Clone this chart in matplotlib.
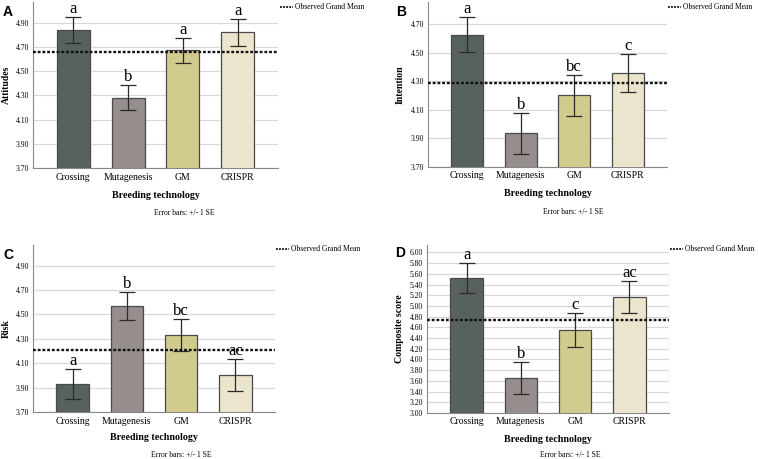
import matplotlib
matplotlib.use("Agg")
import matplotlib.pyplot as plt
import numpy as np

categories = ["Crossing", "Mutagenesis", "GM", "CRISPR"]
colors = ["#58625c", "#958e8d", "#d1cc8e", "#ece5cd"]

att_mean = [4.84, 4.28, 4.67, 4.82]
att_se = [0.105, 0.105, 0.107, 0.111]
att_letters = ["a", "b", "a", "a"]
att_grand = 4.655

int_mean = [4.628, 3.937, 4.204, 4.361]
int_se = [0.121, 0.144, 0.144, 0.133]
int_letters = ["a", "b", "bc", "c"]
int_grand = 4.286

risk_mean = [3.93, 4.569, 4.331, 4.003]
risk_se = [0.121, 0.113, 0.129, 0.128]
risk_letters = ["a", "b", "bc", "ac"]
risk_grand = 4.211

comp_mean = [5.53, 3.66, 4.55, 5.174]
comp_se = [0.28, 0.296, 0.313, 0.297]
comp_letters = ["a", "b", "c", "ac"]
comp_grand = 4.732

W, H = 758, 459
fig = plt.figure(figsize=(W / 100, H / 100), dpi=100)

serif = "Liberation Serif"

panels = [
    dict(box=(33, 2, 278, 168), mean=att_mean, se=att_se, letters=att_letters, grand=att_grand,
         ylabel="Attitudes", ylim=(3.70, 5.07), ticks=np.arange(3.70, 4.91, 0.2), tag="A",
         tagpos=(3, 12), legpos=(280, 7), ylabx=6, errpos=(184, 213), xlab_y=196, tick_y=178),
    dict(box=(428, 2, 667, 167), mean=int_mean, se=int_se, letters=int_letters, grand=int_grand,
         ylabel="Intention", ylim=(3.70, 4.856), ticks=np.arange(3.70, 4.71, 0.2), tag="B",
         tagpos=(396, 12), legpos=(668, 7), ylabx=400, errpos=(573, 212), xlab_y=193, tick_y=176),
    dict(box=(33, 245, 275, 412), mean=risk_mean, se=risk_se, letters=risk_letters, grand=risk_grand,
         ylabel="Risk", ylim=(3.70, 5.07), ticks=np.arange(3.70, 4.91, 0.2), tag="C",
         tagpos=(3, 255), legpos=(276, 249), ylabx=6, errpos=(181, 455), xlab_y=438, tick_y=421),
    dict(box=(427, 245, 669, 413), mean=comp_mean, se=comp_se, letters=comp_letters, grand=comp_grand,
         ylabel="Composite score", ylim=(3.00, 6.14), ticks=np.arange(3.00, 6.01, 0.2), tag="D",
         tagpos=(395, 253), legpos=(670, 249), ylabx=400, errpos=(570, 455), xlab_y=439, tick_y=422),
]

for p in panels:
    l, t, r, b = p["box"]
    ax = fig.add_axes([l / W, 1 - b / H, (r - l) / W, (b - t) / H])
    x = np.arange(len(categories))
    ax.bar(x, p["mean"], width=0.6, color=colors, edgecolor="#4a4a4a", linewidth=0.9,
           bottom=0, zorder=3)
    ax.errorbar(x, p["mean"], yerr=p["se"], fmt="none", ecolor="#2a2a2a", elinewidth=0.9,
                capsize=6, capthick=0.9, zorder=4)
    ax.axhline(p["grand"], color="#111111", linestyle=(0, (1.2, 0.8)), linewidth=1.7, zorder=5)
    ax.set_ylim(*p["ylim"])
    ax.set_xlim(-0.73, 3.73)
    ax.set_yticks(p["ticks"])
    ax.set_yticklabels([f"{v:.2f}" for v in p["ticks"]], fontsize=5.5, family=serif)
    ax.set_xticks(x)
    ax.set_xticklabels([])
    ax.tick_params(axis="both", length=0, pad=3)
    ax.yaxis.grid(True, color="#d9d9d9", linewidth=0.9, zorder=0)
    ax.set_axisbelow(True)
    for s in ["top", "right"]:
        ax.spines[s].set_visible(False)
    for s in ["left", "bottom"]:
        ax.spines[s].set_color("#888888")
        ax.spines[s].set_linewidth(0.8)
    for i, (m, e, lt) in enumerate(zip(p["mean"], p["se"], p["letters"])):
        ax.text(i, m + e, lt, ha="center", va="bottom", fontsize=12, family=serif, zorder=6)
    # category labels
    for i, c in enumerate(categories):
        xd = ax.transData.transform((i, 0))[0]
        fig.text(xd / W, 1 - p["tick_y"] / H, c, ha="center", va="center", fontsize=7, family=serif)
    cx = (l + r) / 2
    fig.text(cx / W, 1 - p["xlab_y"] / H, "Breeding technology", ha="center", va="center",
             fontsize=7.2, family=serif, fontweight="bold")
    fig.text(p["errpos"][0] / W, 1 - p["errpos"][1] / H, "Error bars: +/- 1 SE", ha="center",
             va="center", fontsize=5.5, family=serif)
    fig.text(p["ylabx"] / W, 1 - ((t + b) / 2) / H, p["ylabel"], rotation=90, ha="center",
             va="center", fontsize=7, family=serif, fontweight="bold")
    fig.text(p["tagpos"][0] / W, 1 - p["tagpos"][1] / H, p["tag"], ha="left", va="center",
             fontsize=10, family="Liberation Sans", fontweight="bold")
    lx, ly = p["legpos"]
    fig.add_artist(plt.Line2D([lx / W, (lx + 13) / W], [1 - ly / H, 1 - ly / H],
                              color="#111111", linestyle=(0, (1.0, 0.7)), linewidth=1.3))
    fig.text((lx + 15) / W, 1 - ly / H, "Observed Grand Mean", ha="left", va="center",
             fontsize=5.5, family=serif)

fig.savefig("out.png", dpi=100)
